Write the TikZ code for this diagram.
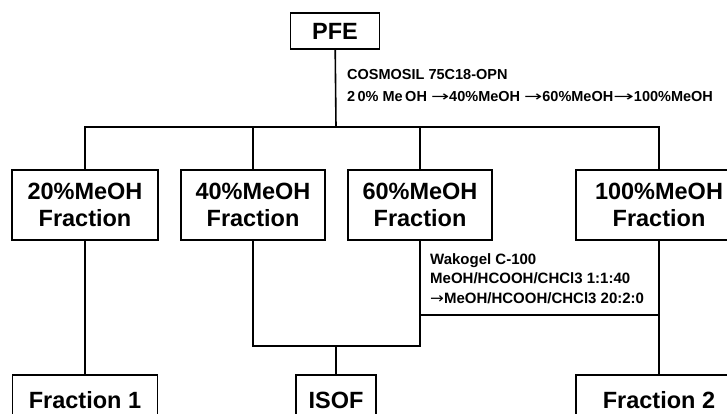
\documentclass[tikz,border=0pt]{standalone}
\usepackage{fontspec}
\setmainfont{Liberation Sans}
\newfontfamily\arrowfont{DejaVu Sans}
\newcommand{\elarrow}[1][1.5]{\scalebox{#1}[1]{\arrowfont\mdseries →}}
\usepackage{tikz}
\usetikzlibrary{positioning}
\tikzset{
  fracbox/.style={draw, line width=1.6pt, align=center, inner sep=0pt,
    font=\fontsize{23.5}{26.5}\selectfont\bfseries},
  elutext/.style={align=left, inner sep=0pt, anchor=north west},
  link/.style={line width=1.6pt}
}

\begin{document}
\begin{tikzpicture}[x=1pt,y=-1pt]
  \clip (0,0) rectangle (727,414);
  % extract and the four MeOH fractions
  \node[fracbox, minimum width=89pt, minimum height=36pt] (pfe) at (335,31) {PFE};
  \node[fracbox, minimum width=146pt, minimum height=70pt] (f20) at (85,205) {20\%MeOH\\Fraction};
  \node[fracbox, minimum width=144pt, minimum height=70pt] (f40) at (253,205) {40\%MeOH\\Fraction};
  \node[fracbox, minimum width=144pt, minimum height=70pt] (f60) at (420,205) {60\%MeOH\\Fraction};
  \node[fracbox, minimum width=166pt, minimum height=70pt] (f100) at (659,205) {100\%MeOH\\Fraction};
  % final products (cut by the lower edge)
  \node[fracbox, minimum width=145pt, minimum height=50pt] (frac1) at (85,400) {Fraction 1};
  \node[fracbox, minimum width=80pt, minimum height=50pt] (isof) at (336,400) {ISOF};
  \node[fracbox, minimum width=166pt, minimum height=50pt] (frac2) at (659,400) {Fraction 2};
  % column conditions
  \node[elutext, font=\fontsize{14.5}{22}\selectfont\bfseries] (cosmo) at (347,69)
    {COSMOSIL 75C18-OPN\\2\,0\% Me\,OH \elarrow40\%MeOH \elarrow60\%MeOH\elarrow[1.7]100\%MeOH};
  \node[elutext, font=\fontsize{15}{19.5}\selectfont\bfseries] (wako) at (430,253)
    {Wakogel C-100\\MeOH/HCOOH/CHCl3 1:1:40\\\elarrow[1.1]MeOH/HCOOH/CHCl3 20:2:0};
  % connectors
  \coordinate (bus) at (336,127);
  \coordinate (join) at (336,346);
  \coordinate (wakojoin) at (420,315);
  \draw[link] (pfe) -- (bus);
  \draw[link] (f20.north) -- (f20.north |- bus) -- (f100.north |- bus) -- (f100.north);
  \draw[link] (f40.north) -- (f40.north |- bus);
  \draw[link] (f60.north) -- (f60.north |- bus);
  \draw[link] (f20) -- (frac1);
  \draw[link] (f40.south) |- (join) -| (f60.south);
  \draw[link] (join) -- (isof);
  \draw[link] (wakojoin) -- (f100.south |- wakojoin);
  \draw[link] (f100) -- (frac2);
\end{tikzpicture}
\end{document}
